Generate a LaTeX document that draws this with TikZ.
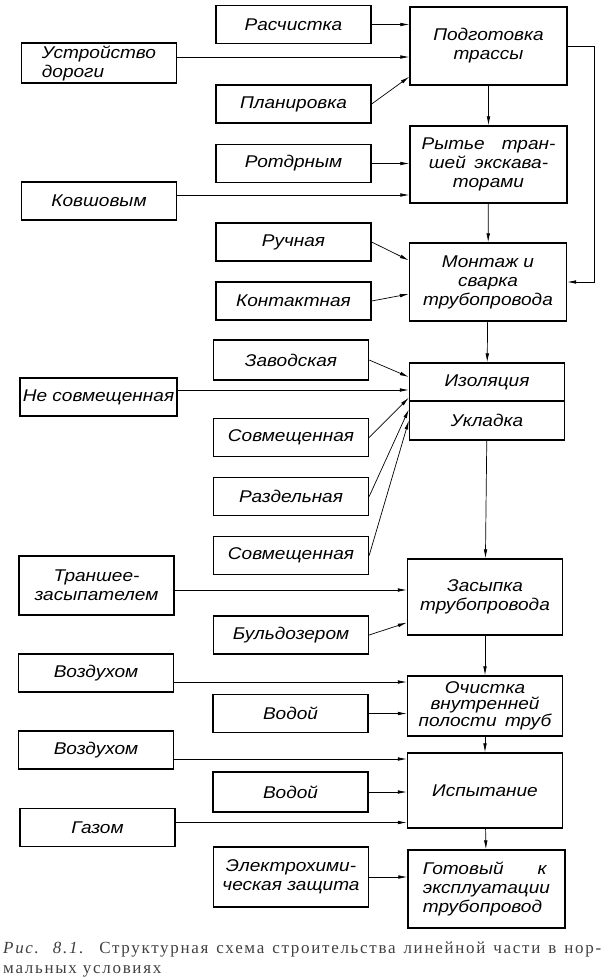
\documentclass[tikz,border=0pt]{standalone}
\usepackage{fontspec}
\setmainfont{Liberation Serif}
\newfontfamily\gostfont{Liberation Sans}[FakeStretch = 1.12]
\newfontfamily\capfamily{Liberation Serif}[LetterSpace = 10.0]
\usepackage{tikz}
\usetikzlibrary{arrows.meta}
\usetikzlibrary{positioning}
\tikzset{>={Latex[length = 9pt, width = 3.6pt]}}
\newcommand{\boxfont}{\gostfont\itshape\fontsize{17}{19}\selectfont}
\newcommand{\boxfonttight}{\gostfont\itshape\fontsize{17}{15.5}\selectfont}
\newcommand{\capfont}{\capfamily\fontsize{17}{20}\selectfont\color{black!75}}
\tikzstyle{stage} = [draw, line width = 1.3pt, minimum width = 155pt, minimum height = 38pt, inner sep = 1pt, align = center, font = \boxfont]
\tikzstyle{feed} = [->, line width = 0.7pt]

\begin{document}
\begin{tikzpicture}[x = 1pt, y = -1pt]
\useasboundingbox (0, 0) rectangle (610, 980);

\node [stage, minimum width = 157pt, minimum height = 78pt] (prep) at (488.5, 46) {Подготовка\\трассы};
\node [stage, minimum width = 157pt, minimum height = 77pt] (dig) at (488.5, 164.5) {Рытье\quad тран-\\шей\enspace экскава-\\торами};
\node [stage, minimum width = 157pt, minimum height = 78pt] (weld) at (488, 282) {Монтаж и\\сварка\\трубопровода};
\node [stage] (iso) at (487, 382) {Изоляция};
\node [stage, below = -1.3pt of iso, minimum height = 39pt] (lay) {Укладка};
\node [stage, minimum height = 76pt] (fill) at (485, 597) {Засыпка\\трубопровода};
\node [stage, minimum height = 60pt, font = \boxfonttight] (clean) at (485, 706) {Очистка\\внутренней\\полости\enspace труб};
\node [stage, minimum height = 75pt] (test) at (485, 790.5) {Испытание};
\node [stage, minimum width = 157pt, minimum height = 78pt, align = left] (ready) at (486.5, 889) {Готовый\qquad к\\эксплуатации\\трубопровод};

\node [stage] (clear) at (293.5, 24.5) {Расчистка};
\node [stage] (plan) at (293.5, 104) {Планировка};
\node [stage] (rotor) at (293.5, 163.5) {Ротдрным};
\node [stage] (manual) at (293.5, 242) {Ручная};
\node [stage] (contact) at (293.5, 301) {Контактная};
\node [stage, minimum height = 40pt] (factory) at (291, 360) {Заводская};
\node [stage] (joint1) at (291, 437.5) {Совмещенная};
\node [stage] (separate) at (291, 496.5) {Раздельная};
\node [stage] (joint2) at (291, 555.5) {Совмещенная};
\node [stage] (dozer) at (291, 635) {Бульдозером};
\node [stage] (water1) at (290.5, 713.5) {Водой};
\node [stage, minimum height = 40pt] (water2) at (290.5, 792) {Водой};
\node [stage, minimum height = 60pt] (electro) at (291, 877) {Электрохими-\\ческая защита};

\node [stage, minimum height = 40pt, align = left] (road) at (99, 63) {Устройство\\дороги};
\node [stage] (bucket) at (99, 201) {Ковшовым};
\node [stage, minimum width = 157pt] (apart) at (98.5, 397) {Не совмещенная};
\node [stage, minimum height = 59pt] (trench) at (96.5, 585.5) {Траншее-\\засыпателем};
\node [stage] (air1) at (96, 673) {Воздухом};
\node [stage] (air2) at (96, 750) {Воздухом};
\node [stage] (gas) at (97.5, 827.5) {Газом};

\node [anchor = north west, inner sep = 0pt, text width = 598pt, align = justify, font = \capfont] (caption) at (3, 942) {\textit{Рис. 8.1.} Структурная схема строительства линейной части в нор-\linebreak мальных условиях};

\coordinate (roadout) at ([yshift = 6pt]road.east);
\coordinate (bucketout) at ([yshift = 6pt]bucket.east);
\coordinate (apartout) at ([yshift = 7pt]apart.east);
\coordinate (trenchout) at ([yshift = -4.5pt]trench.east);
\coordinate (air1out) at ([yshift = -9pt]air1.east);
\coordinate (air2out) at ([yshift = -9pt]air2.east);
\coordinate (gasout) at ([yshift = 5pt]gas.east);

\draw [feed] (clear) to (clear -| prep.west);
\draw [feed] (roadout) to (roadout -| prep.west);
\draw [feed] (plan.east) to ([yshift = 9pt]prep.south west);
\draw [feed] (rotor) to (rotor -| dig.west);
\draw [feed] (bucketout) to (bucketout -| dig.west);
\draw [feed] (manual.east) to ([yshift = -18pt]weld.north west);
\draw [feed] (contact.east) to ([yshift = -12pt]weld.west);
\draw [feed] (factory.east) to ([yshift = 5pt]iso.west);
\draw [feed] (apartout) to (apartout -| iso.west);
\draw [feed] (joint1.east) to ([yshift = 4pt]iso.south west);
\draw [feed] (separate.east) to ([yshift = -9pt]lay.north west);
\draw [feed] (joint2.east) to (lay.west);
\draw [feed] (trenchout) to (trenchout -| fill.west);
\draw [feed] (dozer.east) to ([yshift = 13pt]fill.south west);
\draw [feed] (air1out) to (air1out -| clean.west);
\draw [feed] (water1) to (water1 -| clean.west);
\draw [feed] (air2out) to (air2out -| test.west);
\draw [feed] (water2) to (water2 -| test.west);
\draw [feed] (gasout) to (gasout -| test.west);
\draw [feed] (electro) to (electro -| ready.west);

\draw [feed] (prep) to (dig);
\draw [feed] (dig) to (weld);
\draw [feed] (weld) to (iso);
\draw [feed] (lay) to (fill);
\draw [feed] (fill) to (clean);
\draw [feed] (clean) to (test);
\draw [feed] (test) to (ready);
\draw [feed] (prep.east) -- ++(27, 0) |- (weld.east);
\end{tikzpicture}
\end{document}
